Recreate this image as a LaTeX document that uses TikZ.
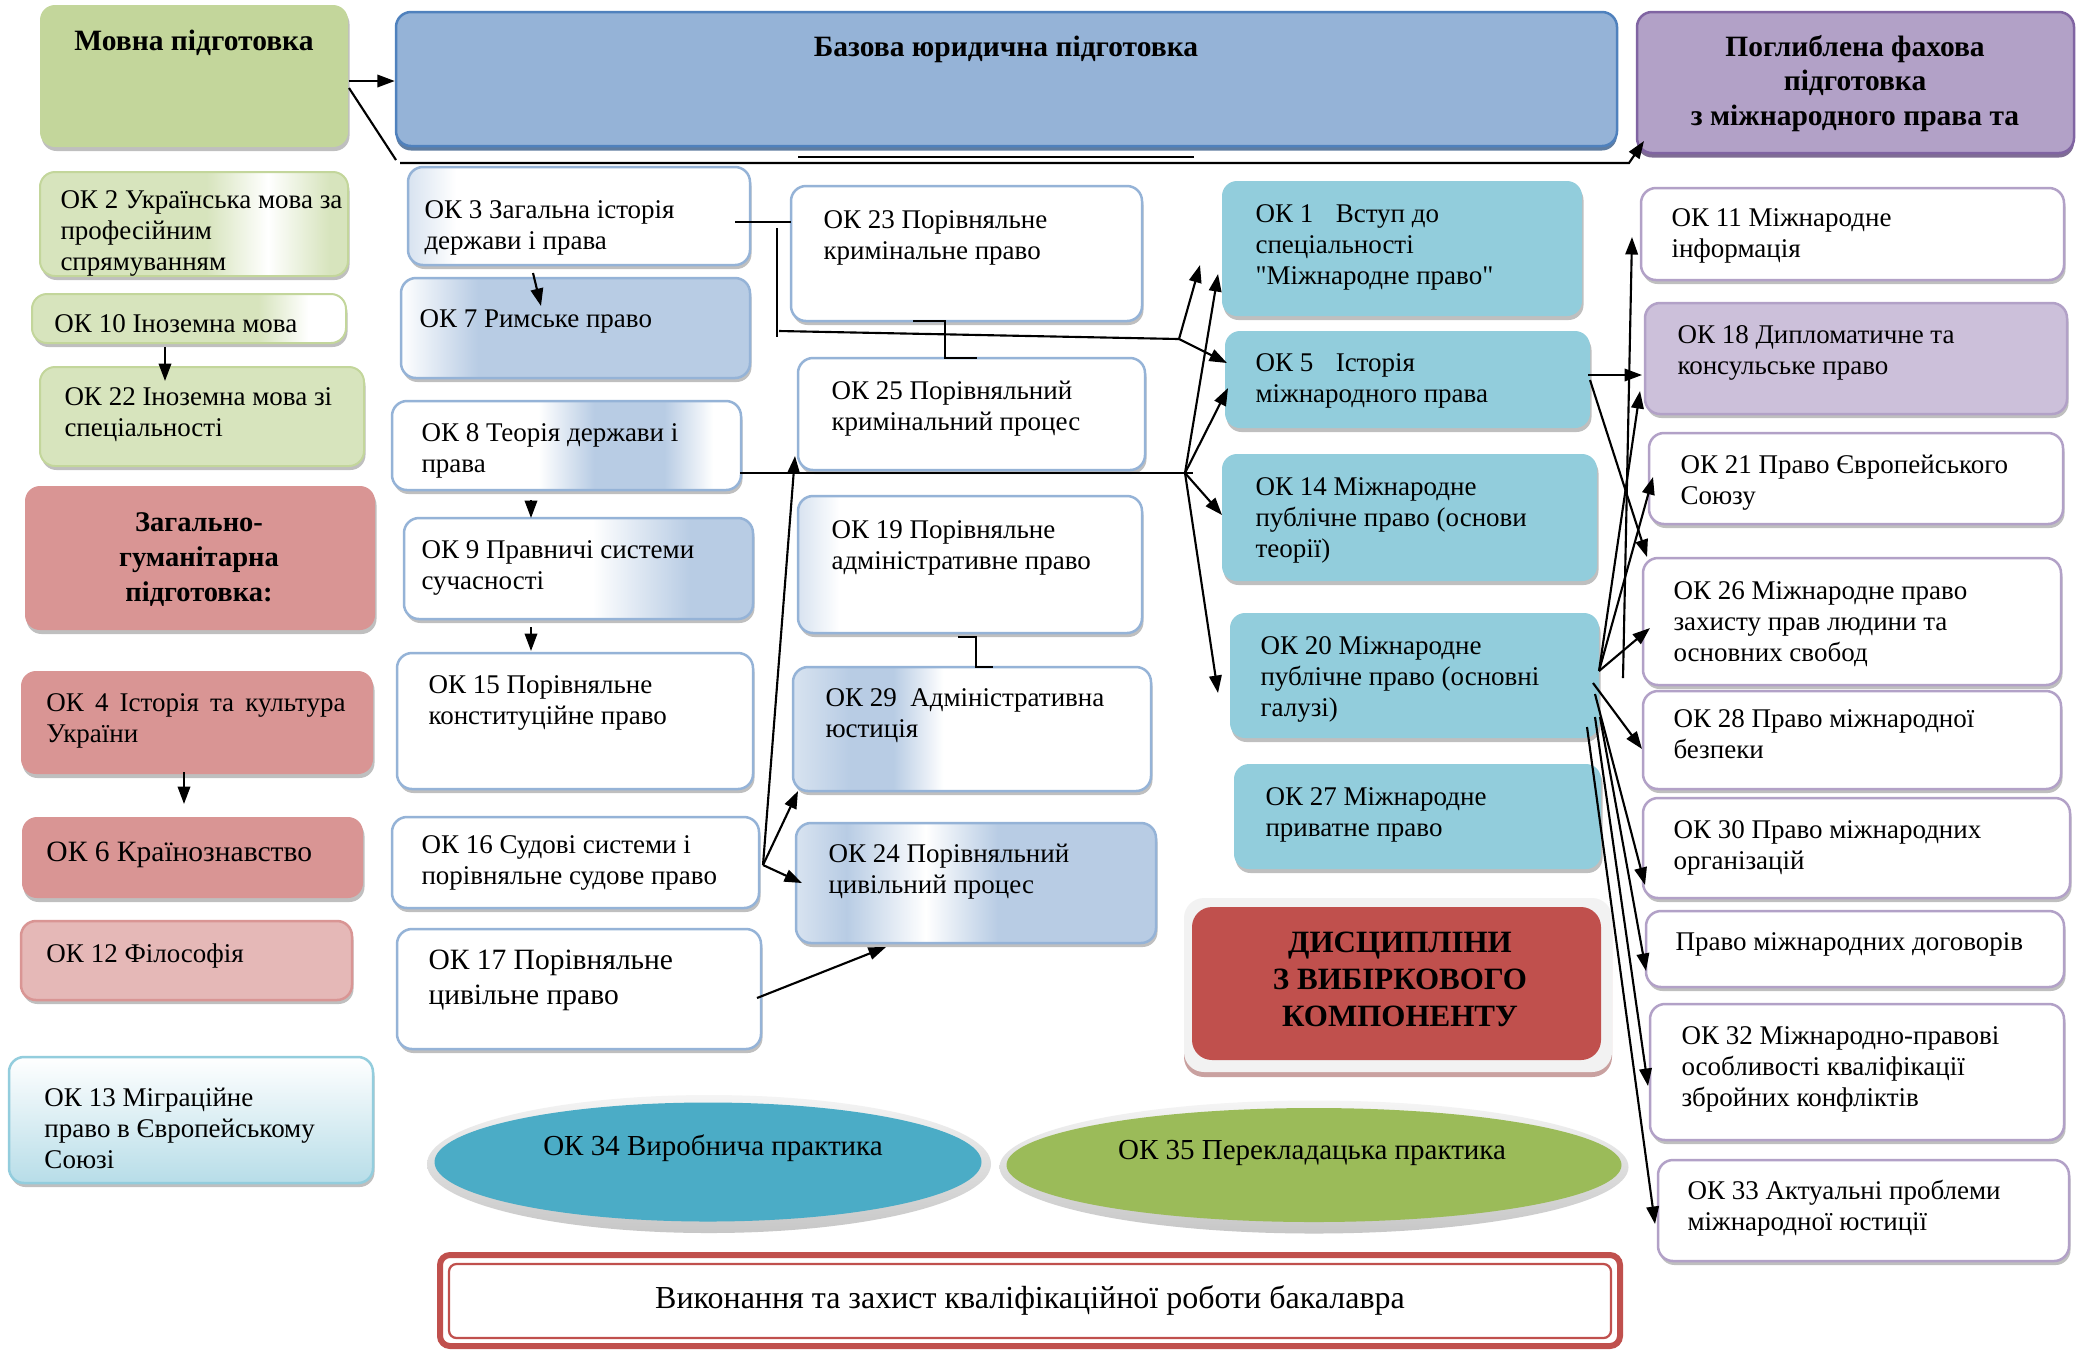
\documentclass[tikz,border=0pt]{standalone}
\usepackage{fontspec}
\setmainfont{Liberation Serif}
\newfontfamily\qfont{Liberation Serif}
\usetikzlibrary{arrows.meta,fit,shadows,shapes.geometric}

\definecolor{grM}{HTML}{C3D69B}
\definecolor{grL}{HTML}{D7E4BD}
\definecolor{pkD}{HTML}{D99594}
\definecolor{pkL}{HTML}{E5B8B7}
\definecolor{bzF}{HTML}{95B3D7}
\definecolor{bzB}{HTML}{4F81BD}
\definecolor{bzS}{HTML}{385D8A}
\definecolor{bluL}{HTML}{B8CCE4}
\definecolor{bluB}{HTML}{95B3D7}
\definecolor{puF}{HTML}{B2A1C7}
\definecolor{puB}{HTML}{8064A2}
\definecolor{puS}{HTML}{5F497A}
\definecolor{puL}{HTML}{CCC0DA}
\definecolor{tl}{HTML}{92CDDC}
\definecolor{rd}{HTML}{C0504D}
\definecolor{elB}{HTML}{4BACC6}
\definecolor{elG}{HTML}{9BBB59}
\definecolor{aqL}{HTML}{B7DDE8}
\definecolor{aqB}{HTML}{93CDDD}
\colorlet{bluLL}{bluL!55!white}

\pgfdeclarehorizontalshading{sOKtwo}{100bp}{color(0bp)=(grL); color(25bp)=(grL); color(52bp)=(grL); color(62bp)=(white); color(72bp)=(grL); color(100bp)=(grL)}
\pgfdeclarehorizontalshading{sOKten}{100bp}{color(0bp)=(grL); color(25bp)=(grL); color(61bp)=(grL); color(69bp)=(white); color(100bp)=(white)}
\pgfdeclarehorizontalshading{sOKthree}{100bp}{color(0bp)=(bluLL); color(25bp)=(bluLL); color(32bp)=(white); color(100bp)=(white)}
\pgfdeclarehorizontalshading{sOKseven}{100bp}{color(0bp)=(white); color(25bp)=(white); color(36bp)=(bluL); color(100bp)=(bluL)}
\pgfdeclarehorizontalshading{sOKeight}{100bp}{color(0bp)=(white); color(25bp)=(white); color(46bp)=(white); color(54bp)=(bluL); color(64bp)=(bluL); color(71bp)=(white); color(100bp)=(white)}
\pgfdeclarehorizontalshading{sOKnine}{100bp}{color(0bp)=(white); color(25bp)=(white); color(52bp)=(white); color(66bp)=(bluL); color(100bp)=(bluL)}
\pgfdeclarehorizontalshading{sOKnineteen}{100bp}{color(0bp)=(bluLL); color(25bp)=(bluLL); color(31bp)=(white); color(100bp)=(white)}
\pgfdeclarehorizontalshading{sOKtwentynine}{100bp}{color(0bp)=(bluLL); color(25bp)=(bluLL); color(33bp)=(bluL); color(39bp)=(bluL); color(46bp)=(white); color(100bp)=(white)}
\pgfdeclarehorizontalshading{sOKtwentyfour}{100bp}{color(0bp)=(bluLL); color(25bp)=(bluLL); color(32bp)=(bluL); color(43bp)=(white); color(53bp)=(bluL); color(100bp)=(bluL)}

\tikzset{
  sh/.style={drop shadow={shadow xshift=0.6pt,shadow yshift=-1.6pt,fill=black,opacity=0.25}},
  bx/.style={inner sep=0pt, rounded corners=6pt},
  greenT/.style={bx, sh, fill=grM},
  greenB/.style={bx, sh, draw=grM, line width=0.8pt},
  pinkb/.style={bx, sh, fill=pkD},
  ctwo/.style={bx, sh, draw=bluB, line width=1pt, fill=white},
  tealb/.style={bx, sh, fill=tl},
  cfive/.style={bx, sh, draw=puF, line width=1pt, fill=white},
  txt/.style={inner sep=0pt, font=\fontsize{10.8}{12.4}\selectfont},
  txtL/.style={inner sep=0pt, font=\fontsize{11.8}{14}\selectfont},
  ttl/.style={inner sep=0pt, font=\fontsize{11.8}{13.8}\selectfont\bfseries},
  ln/.style={line width=0.85pt},
  arr/.style={line width=0.85pt, -{Triangle[length=7pt,width=5pt]}},
}
\renewcommand\arraystretch{1}
\newcommand\Bx[6]{\node[#2, fit={(#3,#4) (#5,#6)}] (#1) {};}
\newcommand\Tx[4]{\node[#2, anchor=base west] (#1) at (#3) {\begin{tabular}[t]{@{}l@{}}#4\end{tabular}};}
\newcommand\Tc[4]{\node[#2, anchor=base] (#1) at (#3) {\begin{tabular}[t]{@{}c@{}}#4\end{tabular}};}

\begin{document}
\begin{tikzpicture}[x=0.4pt,y=-0.4pt]
\fill[white] (0,0) rectangle (2078,1349);
\useasboundingbox (0,0) rectangle (2078,1349);

% ---------- top row
\Bx{movna}{greenT}{40}{5}{348}{147}
\Bx{bazova}{bx, fill=bzF, draw=bzB, line width=1pt, drop shadow={shadow xshift=0pt,shadow yshift=-1.8pt,fill=bzS,opacity=0.8}}{396}{12}{1617}{146}
\Bx{pog}{bx, fill=puF, draw=puB, line width=1pt, drop shadow={shadow xshift=0pt,shadow yshift=-1.8pt,fill=puS,opacity=0.8}}{1637}{12}{2074}{153}
\Tc{movnat}{ttl}{194,50}{Мовна підготовка}
\Tc{bazovat}{ttl}{1006,56}{Базова юридична підготовка}
\Tc{pogt}{ttl}{1855,56}{Поглиблена фахова\\підготовка\\з міжнародного права та}

% ---------- column 1
\Bx{ok2}{greenB, shading=sOKtwo}{40}{172}{348}{276}
\Bx{ok10}{greenB, shading=sOKten}{32}{294}{346}{343}
\Bx{ok22}{greenB, fill=grL}{40}{367}{364}{466}
\Bx{zag}{pinkb}{25}{486}{375}{630}
\Bx{ok4}{pinkb}{21}{671}{373}{774}
\Bx{ok6}{pinkb}{22}{817}{363}{898}
\Bx{ok12}{bx, sh, fill=pkL, draw=pkD, line width=1pt}{21}{921}{352}{1000}
\Bx{ok13}{bx, sh, top color=white, bottom color=aqL, draw=aqB, line width=1pt}{9}{1057}{373}{1183}

\Tx{ok2t}{txt}{60,208}{ОК 2 Українська мова за\\професійним\\спрямуванням}
\Tx{ok10t}{txt}{54,332}{ОК 10 Іноземна мова}
\Tx{ok22t}{txt}{64,405}{ОК 22 Іноземна мова зі\\спеціальності}
\Tc{zagt}{ttl, font=\fontsize{11.4}{14}\selectfont\bfseries}{199,531}{Загально-\\гуманітарна\\підготовка:}
\Tx{ok4t}{txt}{46,711}{\makebox[119.6pt][s]{ОК 4 Історія та культура}\\України}
\Tx{ok6t}{txtL}{46,861}{ОК 6 Країнознавство}
\Tx{ok12t}{txt}{46,962}{ОК 12 Філософія}
\Tx{ok13t}{txt}{44,1106}{ОК 13 Міграційне\\право в Європейському\\Союзі}

% ---------- column 2
\Bx{ok3}{ctwo, shading=sOKthree}{408}{167}{750}{265}
\Bx{ok7}{ctwo, shading=sOKseven}{401}{278}{750}{378}
\Bx{ok8}{ctwo, shading=sOKeight}{392}{401}{741}{490}
\Bx{ok9}{ctwo, shading=sOKnine}{404}{518}{753}{619}
\Bx{ok15}{ctwo}{397}{653}{753}{789}
\Bx{ok16}{ctwo}{392}{817}{759}{908}
\Bx{ok17}{ctwo}{397}{929}{761}{1049}

\Tx{ok3t}{txt}{424,218}{ОК 3 Загальна історія\\держави і права}
\Tx{ok7t}{txt}{419,327}{ОК 7 Римське право}
\Tx{ok8t}{txt}{421,441}{ОК 8 Теорія держави і\\права}
\Tx{ok9t}{txt}{421,558}{ОК 9 Правничі системи\\сучасності}
\Tx{ok15t}{txt}{428,693}{ОК 15 Порівняльне\\конституційне право}
\Tx{ok16t}{txt}{421,853}{ОК 16 Судові системи і\\порівняльне судове право}
\Tx{ok17t}{txtL}{428,969}{ОК 17 Порівняльне\\цивільне право}

% ---------- column 3
\Bx{ok23}{ctwo}{791}{186}{1142}{321}
\Bx{ok25}{ctwo}{798}{358}{1145}{470}
\Bx{ok19}{ctwo, shading=sOKnineteen}{798}{496}{1142}{633}
\Bx{ok29}{ctwo, shading=sOKtwentynine}{793}{667}{1151}{791}
\Bx{ok24}{ctwo, shading=sOKtwentyfour}{796}{823}{1156}{943}

\Tx{ok23t}{txt}{823,228}{ОК 23 Порівняльне\\кримінальне право}
\Tx{ok25t}{txt}{831,399}{ОК 25 Порівняльний\\кримінальний процес}
\Tx{ok19t}{txt}{831,538}{ОК 19 Порівняльне\\адміністративне право}
\Tx{ok29t}{txt}{825,706}{ОК 29\ \ Адміністративна\\юстиція}
\Tx{ok24t}{txt}{828,862}{ОК 24 Порівняльний\\цивільний процес}

% ---------- column 4
\Bx{ok1}{tealb}{1222}{181}{1582}{316}
\Bx{ok5}{tealb}{1225}{331}{1590}{428}
\Bx{ok14}{tealb}{1222}{454}{1597}{581}
\Bx{ok20}{tealb}{1230}{613}{1599}{738}
\Bx{ok27}{tealb}{1234}{764}{1601}{869}
\Bx{discrim}{bx, rounded corners=8pt, fill=black!5, drop shadow={shadow xshift=0pt,shadow yshift=-2pt,fill=rd!60!gray,opacity=0.6}}{1184}{898}{1612}{1072}
\Bx{disc}{bx, rounded corners=8pt, fill=rd}{1192}{907}{1601}{1060}

\Tx{ok1t}{txt}{1255,222}{ОК 1\hspace{9pt}Вступ до\\спеціальності\\{\qfont"}Міжнародне право{\qfont"}}
\Tx{ok5t}{txt}{1255,371}{ОК 5\hspace{9pt}Історія\\міжнародного права}
\Tx{ok14t}{txt}{1255,495}{ОК 14 Міжнародне\\публічне право (основи\\теорії)}
\Tx{ok20t}{txt}{1260,654}{ОК 20 Міжнародне\\публічне право (основні\\галузі)}
\Tx{ok27t}{txt}{1265,805}{ОК 27 Міжнародне\\приватне право}
\Tc{disct}{ttl, font=\fontsize{12.4}{14.8}\selectfont\bfseries}{1400,952}{ДИСЦИПЛІНИ\\З ВИБІРКОВОГО\\КОМПОНЕНТУ}

% ---------- column 5
\Bx{ok11}{cfive}{1641}{188}{2064}{280}
\Bx{ok18}{cfive, fill=puL}{1645}{303}{2067}{414}
\Bx{ok21}{cfive}{1649}{433}{2063}{524}
\Bx{ok26}{cfive}{1643}{558}{2061}{685}
\Bx{ok28}{cfive}{1643}{691}{2061}{789}
\Bx{ok30}{cfive}{1643}{798}{2070}{898}
\Bx{ok31}{cfive}{1646}{911}{2064}{987}
\Bx{ok32}{cfive}{1650}{1004}{2064}{1140}
\Bx{ok33}{cfive}{1658}{1160}{2069}{1261}

\Tx{ok11t}{txt}{1671,226}{ОК 11 Міжнародне\\інформація}
\Tx{ok18t}{txt}{1677,343}{ОК 18 Дипломатичне та\\консульське право}
\Tx{ok21t}{txt}{1680,473}{ОК 21 Право Європейського\\Союзу}
\Tx{ok26t}{txt}{1673,599}{ОК 26 Міжнародне право\\захисту прав людини та\\основних свобод}
\Tx{ok28t}{txt}{1673,727}{ОК 28 Право міжнародної\\безпеки}
\Tx{ok30t}{txt}{1673,838}{ОК 30 Право міжнародних\\організацій}
\Tx{ok31t}{txt}{1675,950}{Право міжнародних договорів}
\Tx{ok32t}{txt}{1681,1044}{ОК 32 Міжнародно-правові\\особливості кваліфікації\\збройних конфліктів}
\Tx{ok33t}{txt}{1687,1199}{ОК 33 Актуальні проблеми\\міжнародної юстиції}

% ---------- bottom
\node[ellipse, inner sep=0pt, minimum width=225.6pt, minimum height=55.2pt, top color=black!4, bottom color=black!22] (ok34rim) at (709,1164) {};
\node[ellipse, inner sep=0pt, minimum width=218.8pt, minimum height=47.6pt, fill=elB] (ok34) at (708,1162) {};
\node[ellipse, inner sep=0pt, minimum width=251.6pt, minimum height=53.2pt, top color=black!4, bottom color=black!22] (ok35rim) at (1314,1167) {};
\node[ellipse, inner sep=0pt, minimum width=246pt, minimum height=45.6pt, fill=elG] (ok35) at (1314,1165) {};
\Tc{ok34t}{txtL, font=\fontsize{11.6}{14}\selectfont}{713,1155}{ОК 34 Виробнича практика}
\Tc{ok35t}{txtL, font=\fontsize{11.6}{14}\selectfont}{1312,1159}{ОК 35 Перекладацька практика}

\Bx{vyk}{inner sep=0pt, rounded corners=4pt, draw=rd, line width=2.4pt, fill=white}{440}{1255}{1620}{1346}
\Bx{vykin}{inner sep=0pt, rounded corners=3pt, draw=rd, line width=0.9pt}{449}{1264}{1611}{1338}
\Tc{vykt}{txtL, font=\fontsize{12.8}{14}\selectfont}{1030,1308}{Виконання та захист кваліфікаційної роботи бакалавра}

% ---------- connector points
\coordinate (t1) at (349,88);  \coordinate (t2) at (396,160);
\coordinate (t3) at (400,163); \coordinate (t4) at (1629,163); \coordinate (t5) at (1644,141);
\coordinate (t6) at (798,157); \coordinate (t7) at (1194,157);
\coordinate (a1) at (533,273); \coordinate (a2) at (541,306);
\coordinate (a3) at (531,500); \coordinate (a4) at (531,518);
\coordinate (a5) at (531,627); \coordinate (a6) at (531,651);
\coordinate (a7) at (184,772); \coordinate (a8) at (184,804);
\coordinate (a9) at (165,347); \coordinate (a10) at (165,381);
\coordinate (b1) at (735,222); \coordinate (b2) at (791,222);
\coordinate (b3) at (777,228); \coordinate (b4) at (777,337);
\coordinate (b5) at (779,331); \coordinate (b6) at (1179,339);
\coordinate (b7) at (1200,265); \coordinate (b8) at (1227,363);
\coordinate (c1) at (740,473); \coordinate (c2) at (1193,473); \coordinate (c0) at (1185,473);
\coordinate (c3) at (1218,274); \coordinate (c4) at (1228,388);
\coordinate (c5) at (1222,515); \coordinate (c6) at (1218,693);
\coordinate (d0) at (763,865); \coordinate (d1) at (795,456);
\coordinate (d2) at (798,791); \coordinate (d3) at (802,883);
\coordinate (d4) at (757,998); \coordinate (d5) at (886,947);
\coordinate (e1) at (913,321); \coordinate (e2) at (945,358); \coordinate (e3) at (977,358);
\coordinate (e4) at (958,637); \coordinate (e5) at (976,667); \coordinate (e6) at (993,667);
\coordinate (f1) at (1588,375); \coordinate (f2) at (1642,375);
\coordinate (f3) at (1590,380); \coordinate (f4) at (1647,557);
\coordinate (f5) at (1623,678); \coordinate (f6) at (1632,237);
\coordinate (g0) at (1599,671);
\coordinate (g1) at (1640,391); \coordinate (g2) at (1653,477); \coordinate (g3) at (1650,628);
\coordinate (h1) at (1593,683); \coordinate (h2) at (1642,749);
\coordinate (h3) at (1595,694); \coordinate (h4) at (1645,885);
\coordinate (h5) at (1600,717); \coordinate (h6) at (1646,971);
\coordinate (h7) at (1595,717); \coordinate (h8) at (1648,1086);
\coordinate (h9) at (1587,727); \coordinate (h10) at (1655,1224);

% ---------- connectors
\draw[arr] ([yshift=-2pt]movna.east) -- ([yshift=-2pt]movna.east -| bazova.west);
\draw[ln] (t1) -- (t2);
\draw[arr] (t3) -- (t4) -- (t5);
\draw[ln] (t6) -- (t7);
\draw[arr] (a1) -- (a2);
\draw[arr] (a3) -- (a4);
\draw[arr] (a5) -- (a6);
\draw[arr] (a7) -- (a8);
\draw[arr] (a9) -- (a10);
\draw[ln] (b1) -- (b2);
\draw[ln] (b3) -- (b4);
\draw[ln] (b5) -- (b6);
\draw[arr] (b6) -- (b7);
\draw[arr] (b6) -- (b8);
\draw[ln] (c1) -- (c2);
\draw[arr] (c0) -- (c3);
\draw[arr] (c0) -- (c4);
\draw[arr] (c0) -- (c5);
\draw[arr] (c0) -- (c6);
\draw[arr] (d0) -- (d1);
\draw[arr] (d0) -- (d2);
\draw[arr] (d0) -- (d3);
\draw[arr] (d4) -- (d5);
\draw[ln] (e1) -| (e2) -- (e3);
\draw[ln] (e4) -| (e5) -- (e6);
\draw[arr] (f1) -- (f2);
\draw[arr] (f3) -- (f4);
\draw[arr] (f5) -- (f6);
\draw[arr] (g0) -- (g1);
\draw[arr] (g0) -- (g2);
\draw[arr] (g0) -- (g3);
\draw[arr] (h1) -- (h2);
\draw[arr] (h3) -- (h4);
\draw[arr] (h5) -- (h6);
\draw[arr] (h7) -- (h8);
\draw[arr] (h9) -- (h10);
\end{tikzpicture}
\end{document}
